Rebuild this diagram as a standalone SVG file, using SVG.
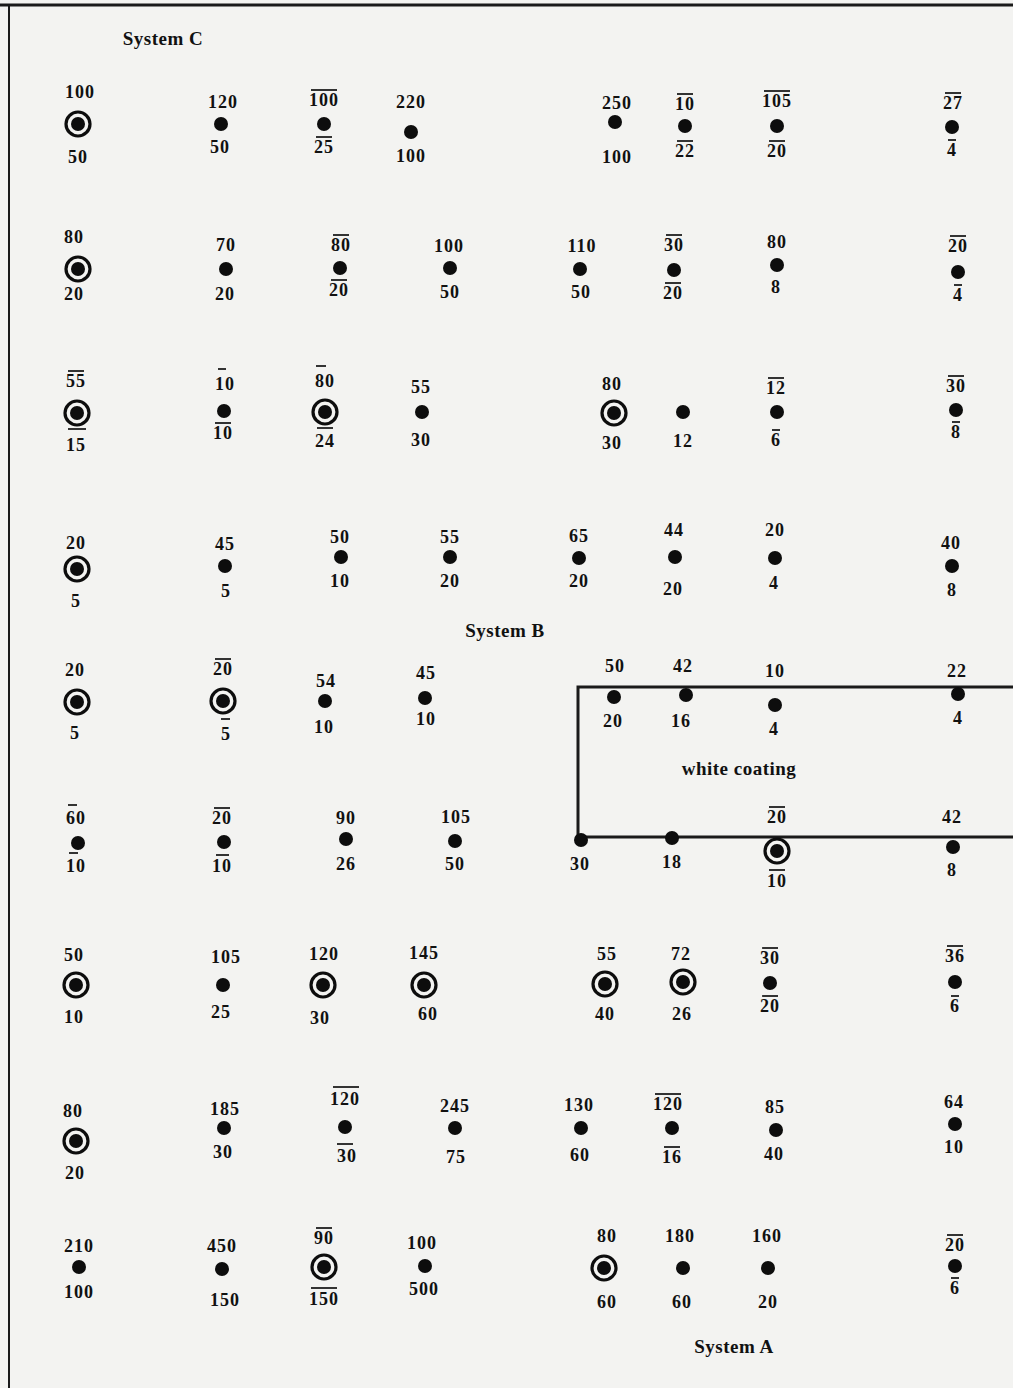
<svg xmlns="http://www.w3.org/2000/svg" width="1013" height="1388" viewBox="0 0 1013 1388">
<style>
text{font-family:"Liberation Serif","Times New Roman",serif;font-weight:bold;font-size:18px;letter-spacing:1px;fill:#111;text-anchor:middle}
.lbl{font-size:19px;letter-spacing:0.5px}
.d{fill:#0d0d0d}
.r{fill:none;stroke:#0d0d0d;stroke-width:3.2}
.o{stroke:#111;stroke-width:1.7}
.frame{stroke:#1a1a1a;fill:none}
</style>
<defs>
<g id="tg"><circle r="12" class="r"/><circle r="7" class="d"/></g>
<circle id="dt" r="7" class="d"/>
</defs>
<rect width="1013" height="1388" fill="#f3f3f1"/>
<path class="frame" d="M0,5 H1013" stroke-width="3"/>
<path class="frame" d="M9,5 V1388" stroke-width="2"/>
<g id="labels">
<text class="lbl" x="163" y="45">System C</text>
<text class="lbl" x="505" y="637">System B</text>
<text class="lbl" x="739" y="775">white coating</text>
<text class="lbl" x="734" y="1353">System A</text>
</g>
<g id="connectors">
<path class="frame" d="M1013,687 H578 V837 H1013" stroke-width="3"/>
</g>
<!-- Row 1 -->
<g id="n1_1"><use href="#tg" x="78" y="124"/><text x="80" y="98">100</text><text x="78" y="163">50</text></g>
<g id="n1_2"><use href="#dt" x="221" y="124"/><text x="223" y="108">120</text><text x="220" y="153">50</text></g>
<g id="n1_3"><use href="#dt" x="324" y="124"/><text x="324" y="106">100</text><line class="o" x1="311" y1="90" x2="337" y2="90"/><text x="324" y="153">25</text><line class="o" x1="316" y1="137" x2="332" y2="137"/></g>
<g id="n1_4"><use href="#dt" x="411" y="132"/><text x="411" y="108">220</text><text x="411" y="162">100</text></g>
<g id="n1_5"><use href="#dt" x="615" y="122"/><text x="617" y="109">250</text><text x="617" y="163">100</text></g>
<g id="n1_6"><use href="#dt" x="685" y="126"/><text x="685" y="110">10</text><line class="o" x1="677" y1="94" x2="693" y2="94"/><text x="685" y="157">22</text><line class="o" x1="677" y1="141" x2="693" y2="141"/></g>
<g id="n1_7"><use href="#dt" x="777" y="126"/><text x="777" y="107">105</text><line class="o" x1="764" y1="91" x2="790" y2="91"/><text x="777" y="157">20</text><line class="o" x1="769" y1="141" x2="785" y2="141"/></g>
<g id="n1_8"><use href="#dt" x="952" y="127"/><text x="953" y="109">27</text><line class="o" x1="945" y1="93" x2="961" y2="93"/><text x="952" y="156">4</text><line class="o" x1="948" y1="140" x2="956" y2="140"/></g>
<!-- Row 2 -->
<g id="n2_1"><use href="#tg" x="78" y="269"/><text x="74" y="243">80</text><text x="74" y="300">20</text></g>
<g id="n2_2"><use href="#dt" x="226" y="269"/><text x="226" y="251">70</text><text x="225" y="300">20</text></g>
<g id="n2_3"><use href="#dt" x="340" y="268"/><text x="341" y="251">80</text><line class="o" x1="333" y1="235" x2="349" y2="235"/><text x="339" y="296">20</text><line class="o" x1="331" y1="280" x2="347" y2="280"/></g>
<g id="n2_4"><use href="#dt" x="450" y="268"/><text x="449" y="252">100</text><text x="450" y="298">50</text></g>
<g id="n2_5"><use href="#dt" x="580" y="269"/><text x="582" y="252">110</text><text x="581" y="298">50</text></g>
<g id="n2_6"><use href="#dt" x="674" y="270"/><text x="674" y="251">30</text><line class="o" x1="666" y1="235" x2="682" y2="235"/><text x="673" y="299">20</text><line class="o" x1="665" y1="283" x2="681" y2="283"/></g>
<g id="n2_7"><use href="#dt" x="777" y="265"/><text x="777" y="248">80</text><text x="776" y="293">8</text></g>
<g id="n2_8"><use href="#dt" x="958" y="272"/><text x="958" y="252">20</text><line class="o" x1="950" y1="236" x2="966" y2="236"/><text x="958" y="301">4</text><line class="o" x1="954" y1="285" x2="962" y2="285"/></g>
<!-- Row 3 -->
<g id="n3_1"><use href="#tg" x="77" y="413"/><text x="76" y="387">55</text><line class="o" x1="68" y1="371" x2="84" y2="371"/><text x="76" y="451">15</text><line class="o" x1="68" y1="429" x2="86" y2="429"/></g>
<g id="n3_2"><use href="#dt" x="224" y="411"/><text x="225" y="390">10</text><line class="o" x1="218" y1="369" x2="226" y2="369"/><text x="223" y="439">10</text><line class="o" x1="215" y1="423" x2="231" y2="423"/></g>
<g id="n3_3"><use href="#tg" x="325" y="412"/><text x="325" y="387">80</text><line class="o" x1="316" y1="366" x2="326" y2="366"/><text x="325" y="447">24</text><line class="o" x1="317" y1="428" x2="333" y2="428"/></g>
<g id="n3_4"><use href="#dt" x="422" y="412"/><text x="421" y="393">55</text><text x="421" y="446">30</text></g>
<g id="n3_5"><use href="#tg" x="614" y="413"/><text x="612" y="390">80</text><text x="612" y="449">30</text></g>
<g id="n3_6"><use href="#dt" x="683" y="412"/><text x="683" y="447">12</text></g>
<g id="n3_7"><use href="#dt" x="777" y="412"/><text x="776" y="394">12</text><line class="o" x1="768" y1="378" x2="784" y2="378"/><text x="776" y="446">6</text><line class="o" x1="772" y1="430" x2="780" y2="430"/></g>
<g id="n3_8"><use href="#dt" x="956" y="410"/><text x="956" y="392">30</text><line class="o" x1="948" y1="376" x2="964" y2="376"/><text x="956" y="438">8</text><line class="o" x1="952" y1="422" x2="960" y2="422"/></g>
<!-- Row 4 -->
<g id="n4_1"><use href="#tg" x="77" y="569"/><text x="76" y="549">20</text><text x="76" y="607">5</text></g>
<g id="n4_2"><use href="#dt" x="225" y="566"/><text x="225" y="550">45</text><text x="226" y="597">5</text></g>
<g id="n4_3"><use href="#dt" x="341" y="557"/><text x="340" y="543">50</text><text x="340" y="587">10</text></g>
<g id="n4_4"><use href="#dt" x="450" y="557"/><text x="450" y="543">55</text><text x="450" y="587">20</text></g>
<g id="n4_5"><use href="#dt" x="579" y="558"/><text x="579" y="542">65</text><text x="579" y="587">20</text></g>
<g id="n4_6"><use href="#dt" x="675" y="557"/><text x="674" y="536">44</text><text x="673" y="595">20</text></g>
<g id="n4_7"><use href="#dt" x="775" y="558"/><text x="775" y="536">20</text><text x="774" y="589">4</text></g>
<g id="n4_8"><use href="#dt" x="952" y="566"/><text x="951" y="549">40</text><text x="952" y="596">8</text></g>
<!-- Row 5 -->
<g id="n5_1"><use href="#tg" x="77" y="702"/><text x="75" y="676">20</text><text x="75" y="739">5</text></g>
<g id="n5_2"><use href="#tg" x="223" y="701"/><text x="223" y="675">20</text><line class="o" x1="215" y1="659" x2="231" y2="659"/><text x="226" y="740">5</text><line class="o" x1="221" y1="719" x2="230" y2="719"/></g>
<g id="n5_3"><use href="#dt" x="325" y="701"/><text x="326" y="687">54</text><text x="324" y="733">10</text></g>
<g id="n5_4"><use href="#dt" x="425" y="698"/><text x="426" y="679">45</text><text x="426" y="725">10</text></g>
<g id="n5_5"><use href="#dt" x="614" y="697"/><text x="615" y="672">50</text><text x="613" y="727">20</text></g>
<g id="n5_6"><use href="#dt" x="686" y="695"/><text x="683" y="672">42</text><text x="681" y="727">16</text></g>
<g id="n5_7"><use href="#dt" x="775" y="705"/><text x="775" y="677">10</text><text x="774" y="735">4</text></g>
<g id="n5_8"><use href="#dt" x="958" y="694"/><text x="957" y="677">22</text><text x="958" y="724">4</text></g>
<!-- Row 6 -->
<g id="n6_1"><use href="#dt" x="78" y="843"/><text x="76" y="824">60</text><line class="o" x1="68" y1="805" x2="77" y2="805"/><text x="76" y="872">10</text><line class="o" x1="69" y1="853" x2="78" y2="853"/></g>
<g id="n6_2"><use href="#dt" x="224" y="842"/><text x="222" y="824">20</text><line class="o" x1="214" y1="808" x2="230" y2="808"/><text x="222" y="872">10</text><line class="o" x1="216" y1="855" x2="229" y2="855"/></g>
<g id="n6_3"><use href="#dt" x="346" y="839"/><text x="346" y="824">90</text><text x="346" y="870">26</text></g>
<g id="n6_4"><use href="#dt" x="455" y="841"/><text x="456" y="823">105</text><text x="455" y="870">50</text></g>
<g id="n6_5"><use href="#dt" x="581" y="840"/><text x="580" y="870">30</text></g>
<g id="n6_6"><use href="#dt" x="672" y="838"/><text x="672" y="868">18</text></g>
<g id="n6_7"><use href="#tg" x="777" y="851"/><text x="777" y="823">20</text><line class="o" x1="769" y1="807" x2="785" y2="807"/><text x="777" y="887">10</text><line class="o" x1="769" y1="870" x2="785" y2="870"/></g>
<g id="n6_8"><use href="#dt" x="953" y="847"/><text x="952" y="823">42</text><text x="952" y="876">8</text></g>
<!-- Row 7 -->
<g id="n7_1"><use href="#tg" x="76" y="985"/><text x="74" y="961">50</text><text x="74" y="1023">10</text></g>
<g id="n7_2"><use href="#dt" x="223" y="985"/><text x="226" y="963">105</text><text x="221" y="1018">25</text></g>
<g id="n7_3"><use href="#tg" x="323" y="985"/><text x="324" y="960">120</text><text x="320" y="1024">30</text></g>
<g id="n7_4"><use href="#tg" x="424" y="985"/><text x="424" y="959">145</text><text x="428" y="1020">60</text></g>
<g id="n7_5"><use href="#tg" x="605" y="984"/><text x="607" y="960">55</text><text x="605" y="1020">40</text></g>
<g id="n7_6"><use href="#tg" x="683" y="982"/><text x="681" y="960">72</text><text x="682" y="1020">26</text></g>
<g id="n7_7"><use href="#dt" x="770" y="983"/><text x="770" y="964">30</text><line class="o" x1="762" y1="948" x2="778" y2="948"/><text x="770" y="1012">20</text><line class="o" x1="762" y1="996" x2="778" y2="996"/></g>
<g id="n7_8"><use href="#dt" x="955" y="982"/><text x="955" y="962">36</text><line class="o" x1="947" y1="946" x2="963" y2="946"/><text x="955" y="1012">6</text><line class="o" x1="951" y1="996" x2="959" y2="996"/></g>
<!-- Row 8 -->
<g id="n8_1"><use href="#tg" x="76" y="1141"/><text x="73" y="1117">80</text><text x="75" y="1179">20</text></g>
<g id="n8_2"><use href="#dt" x="224" y="1128"/><text x="225" y="1115">185</text><text x="223" y="1158">30</text></g>
<g id="n8_3"><use href="#dt" x="345" y="1127"/><text x="345" y="1105">120</text><line class="o" x1="333" y1="1087" x2="359" y2="1087"/><text x="347" y="1162">30</text><line class="o" x1="337" y1="1144" x2="353" y2="1144"/></g>
<g id="n8_4"><use href="#dt" x="455" y="1128"/><text x="455" y="1112">245</text><text x="456" y="1163">75</text></g>
<g id="n8_5"><use href="#dt" x="581" y="1128"/><text x="579" y="1111">130</text><text x="580" y="1161">60</text></g>
<g id="n8_6"><use href="#dt" x="672" y="1128"/><text x="668" y="1110">120</text><line class="o" x1="655" y1="1094" x2="681" y2="1094"/><text x="672" y="1163">16</text><line class="o" x1="664" y1="1147" x2="680" y2="1147"/></g>
<g id="n8_7"><use href="#dt" x="776" y="1130"/><text x="775" y="1113">85</text><text x="774" y="1160">40</text></g>
<g id="n8_8"><use href="#dt" x="955" y="1124"/><text x="954" y="1108">64</text><text x="954" y="1153">10</text></g>
<!-- Row 9 -->
<g id="n9_1"><use href="#dt" x="79" y="1267"/><text x="79" y="1252">210</text><text x="79" y="1298">100</text></g>
<g id="n9_2"><use href="#dt" x="222" y="1269"/><text x="222" y="1252">450</text><text x="225" y="1306">150</text></g>
<g id="n9_3"><use href="#tg" x="324" y="1267"/><text x="324" y="1244">90</text><line class="o" x1="316" y1="1228" x2="332" y2="1228"/><text x="324" y="1305">150</text><line class="o" x1="311" y1="1288" x2="337" y2="1288"/></g>
<g id="n9_4"><use href="#dt" x="425" y="1266"/><text x="422" y="1249">100</text><text x="424" y="1295">500</text></g>
<g id="n9_5"><use href="#tg" x="604" y="1268"/><text x="607" y="1242">80</text><text x="607" y="1308">60</text></g>
<g id="n9_6"><use href="#dt" x="683" y="1268"/><text x="680" y="1242">180</text><text x="682" y="1308">60</text></g>
<g id="n9_7"><use href="#dt" x="768" y="1268"/><text x="767" y="1242">160</text><text x="768" y="1308">20</text></g>
<g id="n9_8"><use href="#dt" x="955" y="1266"/><text x="955" y="1251">20</text><line class="o" x1="947" y1="1235" x2="963" y2="1235"/><text x="955" y="1294">6</text><line class="o" x1="951" y1="1278" x2="959" y2="1278"/></g>
</svg>
